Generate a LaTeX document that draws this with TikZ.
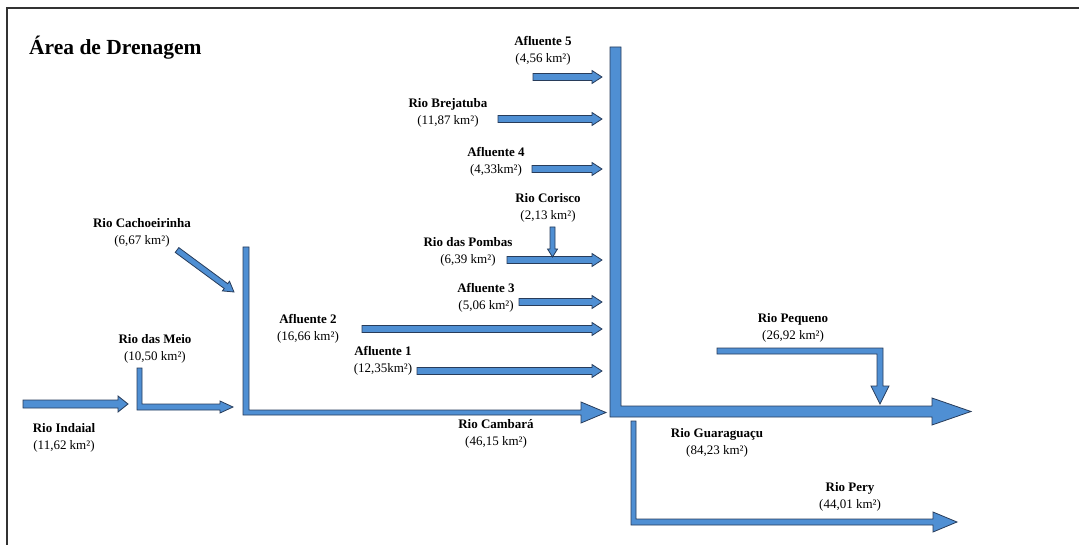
\documentclass[tikz,border=0pt]{standalone}
\usepackage{fontspec}
\setmainfont{Liberation Serif}
\definecolor{riverfill}{RGB}{79,143,211}
\definecolor{riverline}{RGB}{40,60,90}
\definecolor{framegray}{RGB}{50,50,50}
\tikzset{
  river/.style={fill=riverfill,draw=riverline,line width=0.8pt,line join=miter},
  lbl/.style={align=center,inner sep=0pt,font=\fontsize{13}{17}\selectfont},
  titletext/.style={anchor=west,inner sep=0pt,font=\fontsize{21.5}{24}\selectfont\bfseries}
}
% horizontal block arrow: x1, tip x, y, shaft half, head half, head length
\newcommand\hblk[6]{%
  \path[river] (#1,#3-#4) -- (#2-#6,#3-#4) -- (#2-#6,#3-#5) -- (#2,#3)
     -- (#2-#6,#3+#5) -- (#2-#6,#3+#4) -- (#1,#3+#4) -- cycle;}
\begin{document}
\begin{tikzpicture}[x=1pt,y=-1pt]
\useasboundingbox (0,0) rectangle (1079,545);
% frame
\draw[framegray,line width=2pt] (7,546) -- (7,8) -- (1080,8);
% title
\node[titletext] (title) at (29,48) {Área de Drenagem};

% main trunk (Rio Guaraguaçu)
\path[river] (610,47) -- (621,47) -- (621,406) -- (932,406) -- (932,398) -- (971,411.5)
   -- (932,425) -- (932,417) -- (610,417) -- cycle;
% Rio Cambará
\path[river] (243,247) -- (249,247) -- (249,410) -- (581,410) -- (581,402) -- (606,412.5)
   -- (581,423) -- (581,415) -- (243,415) -- cycle;
% Rio das Meio
\path[river] (137,368) -- (142,368) -- (142,404) -- (220,404) -- (220,401) -- (233,407)
   -- (220,413) -- (220,410) -- (137,410) -- cycle;
% Rio Indaial
\hblk{23}{128}{404}{4}{8}{10}
% Rio Cachoeirinha (diagonal)
\path[river] (178.8,247.6) -- (227.7,283.7) -- (229.5,281.2) -- (234,292)
   -- (222.4,290.9) -- (224.2,288.5) -- (175.2,252.4) -- cycle;
% tributaries into trunk
\hblk{533}{602}{77}{3.5}{6.5}{10}
\hblk{498}{602}{119}{3.5}{6.5}{10}
\hblk{532}{602}{169}{3.5}{6.5}{10}
\hblk{507}{602}{260}{3.5}{6.5}{10}
\hblk{519}{602}{302}{3.5}{6.5}{10}
\hblk{362}{602}{329}{3.5}{6.5}{10}
\hblk{417}{602}{371}{3.5}{6.5}{10}
% Rio Corisco (down)
\path[river] (550,227) -- (555,227) -- (555,249) -- (557.5,249) -- (552.5,257)
   -- (547.5,249) -- (550,249) -- cycle;
% Rio Pequeno
\path[river] (717,348) -- (883,348) -- (883,386) -- (889,386) -- (880,404)
   -- (871,386) -- (877,386) -- (877,354) -- (717,354) -- cycle;
% Rio Pery
\path[river] (631,421) -- (636,421) -- (636,519) -- (933,519) -- (933,512) -- (957,522)
   -- (933,532) -- (933,525) -- (631,525) -- cycle;

% labels
\node[lbl] (af5) at (543,51) {\textbf{Afluente 5}\\(4,56 km²)};
\node[lbl] (brej) at (448,112.5) {\textbf{Rio Brejatuba}\\(11,87 km²)};
\node[lbl] (af4) at (496,162) {\textbf{Afluente 4}\\(4,33km²)};
\node[lbl] (cor) at (548,208) {\textbf{Rio Corisco}\\(2,13 km²)};
\node[lbl] (pomb) at (468,251.5) {\textbf{Rio das Pombas}\\(6,39 km²)};
\node[lbl] (af3) at (486,298) {\textbf{Afluente 3}\\(5,06 km²)};
\node[lbl] (af2) at (308,328.5) {\textbf{Afluente 2}\\(16,66 km²)};
\node[lbl] (af1) at (383,360.5) {\textbf{Afluente 1}\\(12,35km²)};
\node[lbl] (cach) at (142,232.5) {\textbf{Rio Cachoeirinha}\\(6,67 km²)};
\node[lbl] (meio) at (155,349) {\textbf{Rio das Meio}\\(10,50 km²)};
\node[lbl] (inda) at (64,437.5) {\textbf{Rio Indaial}\\(11,62 km²)};
\node[lbl] (camb) at (496,434) {\textbf{Rio Cambará}\\(46,15 km²)};
\node[lbl] (guar) at (717,442.5) {\textbf{Rio Guaraguaçu}\\(84,23 km²)};
\node[lbl] (peq) at (793,328) {\textbf{Rio Pequeno}\\(26,92 km²)};
\node[lbl] (pery) at (850,496.5) {\textbf{Rio Pery}\\(44,01 km²)};
\end{tikzpicture}
\end{document}
